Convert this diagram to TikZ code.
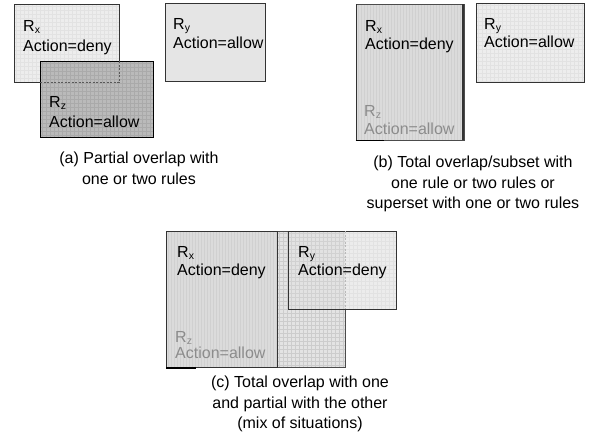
\documentclass[tikz,border=0pt]{standalone}
\usepackage{fontspec}
\setmainfont{Liberation Sans}
\definecolor{edge}{gray}{0.2}
\definecolor{lfill}{gray}{0.93}
\definecolor{lgrid}{gray}{0.885}
\definecolor{yfill}{gray}{0.90}
\definecolor{dfill}{gray}{0.73}
\definecolor{dgrid}{gray}{0.665}
\definecolor{sfill}{gray}{0.86}
\definecolor{sline}{gray}{0.815}
\definecolor{mfill}{gray}{0.89}
\definecolor{mgrid}{gray}{0.80}
\definecolor{cyfillA}{gray}{0.885}
\definecolor{cygridA}{gray}{0.82}
\definecolor{cyfillB}{gray}{0.925}
\definecolor{cygridB}{gray}{0.885}
\definecolor{fadetext}{gray}{0.55}
\newcommand{\Rsub}[1]{R\raisebox{-2.5pt}{\fontsize{10.5}{10.5}\selectfont #1}}
\tikzset{
  boxedge/.style={draw=edge, line width=0.9pt},
  lbl/.style={anchor=base west, inner sep=0pt, font=\fontsize{16}{20}\selectfont},
  captext/.style={anchor=north, inner sep=0pt, align=center, font=\fontsize{16}{20.5}\selectfont},
  hidden/.style={draw=gray!70!black, line width=0.6pt, dash pattern=on 2pt off 1.5pt},
}
\begin{document}
\begin{tikzpicture}[x=1pt,y=-1pt]
\useasboundingbox[fill=white] (0,0) rectangle (590,437);

% ---------- (a) ----------
% Rx
\fill[lfill] (14,4) rectangle (119,82);
\begin{scope}\clip (14,4) rectangle (119,82);
  \foreach \i in {16,20,...,120} \draw[lgrid, line width=0.3pt] (\i,4) -- (\i,82);
  \foreach \j in {6,10,...,82} \draw[lgrid, line width=0.3pt] (14,\j) -- (119,\j);
\end{scope}
\draw[boxedge] (14,4) rectangle (119,82);
% Ry
\fill[yfill] (165,3) rectangle (265,81);
\draw[boxedge] (165,3) rectangle (265,81);
% Rz
\fill[dfill] (40,61) rectangle (153,137);
\begin{scope}\clip (40,61) rectangle (153,137);
  \foreach \i in {42,46,...,154} \draw[dgrid, line width=0.35pt] (\i,61) -- (\i,137);
  \foreach \j in {63,67,...,137} \draw[dgrid, line width=0.35pt] (40,\j) -- (153,\j);
\end{scope}
\draw[boxedge, draw=black] (40,61) rectangle (153,137);
\draw[hidden] (40,82) -- (119,82) -- (119,61);
% texts
\node[lbl] (ax1) at (23,31) {\Rsub{x}};
\node[lbl] (ax2) at (23,51) {Action=deny};
\node[lbl] (ay1) at (173,29) {\Rsub{y}};
\node[lbl] (ay2) at (173,48) {Action=allow};
\node[lbl] (az1) at (49,107) {\Rsub{z}};
\node[lbl] (az2) at (49,127) {Action=allow};
\node[captext] (capa) at (139,152) {(a) Partial overlap with\\one or two rules};

% ---------- (b) ----------
% Rx (contains Rz)
\fill[sfill] (356,4) rectangle (464,140);
\begin{scope}\clip (356,4) rectangle (464,140);
  \foreach \i in {358,361,...,464} \draw[sline, line width=0.4pt] (\i,4) -- (\i,140);
\end{scope}
\draw[draw=gray!60!black, line width=0.6pt] (356,4) rectangle (464,140);
\draw[edge, line width=1.6pt] (356.5,4) -- (356.5,140);
\draw[gray!40!black, line width=2.6pt] (463,4) -- (463,140);
\draw[black, line width=1.2pt] (355.5,140.5) -- (384,140.5);
% Ry
\fill[lfill] (476,3) rectangle (584,82);
\begin{scope}\clip (476,3) rectangle (584,82);
  \foreach \i in {478,482,...,584} \draw[lgrid, line width=0.3pt] (\i,3) -- (\i,82);
  \foreach \j in {5,9,...,82} \draw[lgrid, line width=0.3pt] (476,\j) -- (584,\j);
\end{scope}
\draw[boxedge] (476,3) rectangle (584,82);
% texts
\node[lbl] (bx1) at (365,31) {\Rsub{x}};
\node[lbl] (bx2) at (365,49) {Action=deny};
\node[lbl, text=fadetext] (bz1) at (364,116) {\Rsub{z}};
\node[lbl, text=fadetext] (bz2) at (364,134) {Action=allow};
\node[lbl] (by1) at (484,29) {\Rsub{y}};
\node[lbl] (by2) at (484,47) {Action=allow};
\node[captext] (capb) at (473,156) {(b) Total overlap/subset with\\one rule or two rules or\\superset with one or two rules};

% ---------- (c) ----------
% grid region (Rz)
\fill[mfill] (277,231) rectangle (345,367);
\begin{scope}\clip (277,231) rectangle (345,367);
  \foreach \i in {279,283,...,345} \draw[mgrid, line width=0.4pt] (\i,231) -- (\i,367);
  \foreach \j in {233,237,...,367} \draw[mgrid, line width=0.4pt] (277,\j) -- (345,\j);
\end{scope}
\draw[draw=gray!60!black, line width=0.8pt] (277,231) rectangle (345,367);
% Rx
\fill[sfill] (166,231) rectangle (277,367);
\begin{scope}\clip (166,231) rectangle (277,367);
  \foreach \i in {168,171,...,277} \draw[sline, line width=0.4pt] (\i,231) -- (\i,367);
\end{scope}
\draw[boxedge] (166,231) rectangle (277,367);
\draw[edge, line width=1.8pt] (166.5,231) -- (166.5,367);
\draw[black, line width=1.4pt] (166,368) -- (196,368);
% Ry
\fill[cyfillB] (288,231) rectangle (396,309);
\begin{scope}\clip (288,231) rectangle (345,309);
  \fill[cyfillA] (288,231) rectangle (345,309);
  \foreach \i in {291,295,...,345} \draw[cygridA, line width=0.3pt] (\i,231) -- (\i,309);
  \foreach \j in {233,237,...,309} \draw[cygridA, line width=0.3pt] (288,\j) -- (345,\j);
\end{scope}
\begin{scope}\clip (345,231) rectangle (396,309);
  \foreach \i in {349,353,...,396} \draw[cygridB, line width=0.3pt] (\i,231) -- (\i,309);
  \foreach \j in {233,237,...,309} \draw[cygridB, line width=0.3pt] (345,\j) -- (396,\j);
\end{scope}
\draw[boxedge] (288,231) rectangle (396,309);
\draw[hidden, draw=gray!55] (345,231) -- (345,309);
% texts
\node[lbl] (cx1) at (177,257) {\Rsub{x}};
\node[lbl] (cx2) at (177,275) {Action=deny};
\node[lbl] (cy1) at (298,257) {\Rsub{y}};
\node[lbl] (cy2) at (298,275) {Action=deny};
\node[lbl, text=fadetext] (cz1) at (175,342) {\Rsub{z}};
\node[lbl, text=fadetext] (cz2) at (175,358) {Action=allow};
\node[captext] (capc) at (300,376) {(c) Total overlap with one\\and partial with the other\\(mix of situations)};
\end{tikzpicture}
\end{document}
